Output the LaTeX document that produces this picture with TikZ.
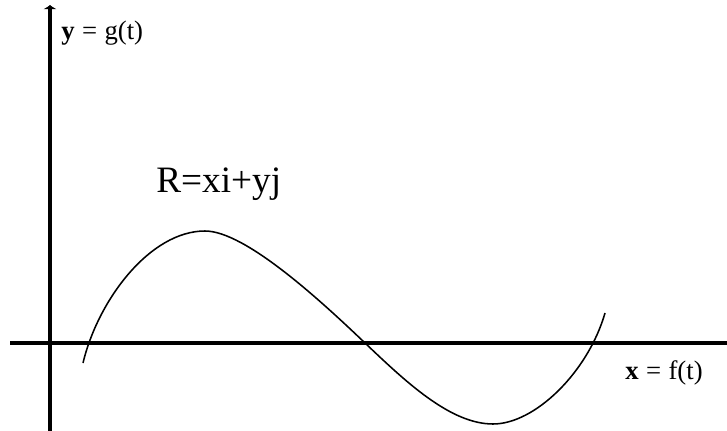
\documentclass[tikz,border=0pt]{standalone}
\usepackage{fontspec}
\setmainfont{Liberation Serif}
\usepackage{xcolor}
\usepackage{tikz}
\usetikzlibrary{arrows.meta,positioning}
\definecolor{plotInk}{HTML}{000000}
\tikzset{
  axisLine/.style={
    line width=2.2pt,
    draw=plotInk
  },
  axisArrow/.style={
    axisLine,
    -{Latex[length=3pt,width=10pt]}
  },
  curveLine/.style={
    line width=1.1pt,
    draw=plotInk
  },
  axisLabel/.style={
    inner sep=0pt,
    font=\fontsize{19}{22}\selectfont
  },
  vectorLabel/.style={
    inner sep=0pt,
    font=\fontsize{26.5}{30}\selectfont
  }
}

\begin{document}
\begin{tikzpicture}[x=0.025cm,y=-0.025cm]
  \useasboundingbox (0,0) rectangle (727,431);
  % axes
  \coordinate (yBottom) at (50,431);
  \coordinate (yTop) at (50,5);
  \coordinate (xLeft) at (10,343);
  \coordinate (xRight) at (727,343);
  \draw[axisLine] (xLeft) -- (xRight);
  \draw[axisArrow] (yBottom) -- (yTop);
  % curve
  \coordinate (curveStart) at (83,363);
  \coordinate (curveTop) at (205,231);
  \coordinate (curveCross) at (365,343);
  \coordinate (curveBottom) at (493,424);
  \coordinate (curveEnd) at (605,313);
  \draw[curveLine] (curveStart) .. controls (98,300) and (150,231) .. (curveTop)
    .. controls (245,231) and (320,300) .. (curveCross)
    .. controls (405,381) and (450,424) .. (curveBottom)
    .. controls (535,424) and (588,372) .. (curveEnd);
  % labels
  \node[axisLabel,anchor=west] (yLabel) at (61,33) {\textbf{y}\;=\;g(t)};
  \node[axisLabel,anchor=west] (xLabel) at (625,373) {\textbf{x}\;=\;f(t)};
  \node[vectorLabel,anchor=west] (vecLabel) at (156,184) {R=xi+yj};
\end{tikzpicture}
\end{document}
